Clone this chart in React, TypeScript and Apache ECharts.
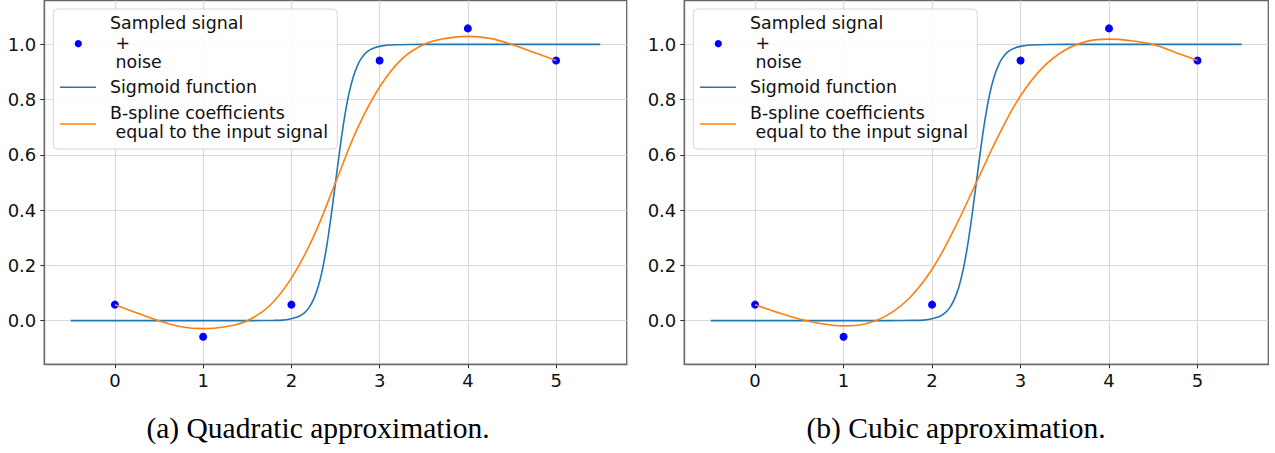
import React, { useEffect, useRef } from "react";
import * as echarts from "echarts";

// Sampled signal + noise
const sampleX = [0, 1, 2, 3, 4, 5];
const sampleY = [0.058, -0.058, 0.058, 0.942, 1.058, 0.942];

// Sigmoid curve, points
const sigmoidX = [-0.5, 1.5, 1.8, 1.9, 2.0, 2.05, 2.1, 2.15, 2.2, 2.25, 2.3, 2.35, 2.4, 2.45, 2.5, 2.55, 2.6, 2.65, 2.7, 2.75, 2.8, 2.85, 2.9, 2.95, 3.0, 3.1, 3.2, 3.5, 5.5];
const sigmoidY = [0.0, 0.0, 0.001, 0.002, 0.007, 0.011, 0.018, 0.029, 0.047, 0.076, 0.119, 0.182, 0.269, 0.378, 0.5, 0.622, 0.731, 0.818, 0.881, 0.924, 0.953, 0.971, 0.982, 0.989, 0.993, 0.998, 0.999, 1.0, 1.0];

// B-spline curves, points
const splineX = [0, 0.25, 0.5, 0.75, 1, 1.25, 1.5, 1.75, 2, 2.25, 2.5, 2.75, 3, 3.25, 3.5, 3.75, 4, 4.25, 4.5, 4.75, 5];
const quadraticY = [0.058, 0.028, 0.0, -0.022, -0.029, -0.022, 0.0, 0.053, 0.154, 0.303, 0.5, 0.697, 0.846, 0.947, 1.0, 1.022, 1.029, 1.022, 1.0, 0.971, 0.942];
const cubicY = [0.058, 0.03, 0.006, -0.011, -0.019, -0.011, 0.021, 0.084, 0.186, 0.331, 0.5, 0.669, 0.814, 0.916, 0.979, 1.011, 1.019, 1.013, 1.0, 0.971, 0.942];

const xTicks = [0, 1, 2, 3, 4, 5];
const yTicks = [0, 0.2, 0.4, 0.6, 0.8, 1.0];
const legendNames = ["Sampled signal\n +\n noise", "Sigmoid function", "B-spline coefficients\n equal to the input signal"];
const captions = ["(a) Quadratic approximation.", "(b) Cubic approximation."];

const BLUE_DOT = "#0000ff";
const C_BLUE = "#1f77b4";
const C_ORANGE = "#ff7f0e";
const TICK_FONT = "DejaVu Sans";

const pairs = (xs: number[], ys: number[]) => xs.map((x, i) => [x, ys[i]]);

const gridLefts = [44.3, 684.3];
const gridWidths = [582.4, 584];
const captionCenters = [318, 956];

function legendGraphic(left: number) {
  return {
    type: "group",
    x: left,
    y: 0,
    children: [
      {
        type: "rect",
        shape: { x: 9, y: 9, width: 284, height: 140, r: 4 },
        style: { fill: "rgba(255,255,255,0.85)", stroke: "#d6d6d6", lineWidth: 1 },
        z: 10,
      },
      { type: "circle", shape: { cx: 34, cy: 43.7, r: 3.6 }, style: { fill: BLUE_DOT }, z: 11 },
      { type: "line", shape: { x1: 15.7, y1: 87.3, x2: 51.7, y2: 87.3 }, style: { stroke: C_BLUE, lineWidth: 1.6 }, z: 11 },
      { type: "line", shape: { x1: 15.7, y1: 124, x2: 51.7, y2: 124 }, style: { stroke: C_ORANGE, lineWidth: 1.6 }, z: 11 },
      {
        type: "text", x: 65.7, y: 42.5, z: 11,
        style: { text: legendNames[0], fill: "#111", font: `17.4px "${TICK_FONT}"`, lineHeight: 19.3, verticalAlign: "middle", align: "left" },
      },
      {
        type: "text", x: 65.7, y: 87.3, z: 11,
        style: { text: legendNames[1], fill: "#111", font: `17.4px "${TICK_FONT}"`, lineHeight: 19.3, verticalAlign: "middle", align: "left" },
      },
      {
        type: "text", x: 65.7, y: 122.5, z: 11,
        style: { text: legendNames[2], fill: "#111", font: `17.4px "${TICK_FONT}"`, lineHeight: 19.6, verticalAlign: "middle", align: "left" },
      },
    ],
  };
}

export default function App() {
  const ref = useRef<HTMLDivElement>(null);

  useEffect(() => {
    if (!ref.current) return;
    const chart = echarts.init(ref.current, null, { renderer: "svg" });

    const grids = [0, 1].map((i) => ({
      left: gridLefts[i],
      top: 0.5,
      width: gridWidths[i],
      height: 363.8,
      show: true,
      borderColor: "#666",
      borderWidth: 1.3,
      backgroundColor: "transparent",
      containLabel: false,
    }));

    const xAxes = [0, 1].map((i) => ({
      type: "value",
      gridIndex: i,
      min: -0.8,
      max: 5.8,
      axisLine: { show: true, onZero: false, lineStyle: { color: "#666", width: 1.3 } },
      axisTick: { show: true, length: 4, customValues: xTicks, lineStyle: { color: "#333", width: 1 } },
      axisLabel: {
        customValues: xTicks,
        margin: 7,
        color: "#111",
        fontFamily: TICK_FONT,
        fontSize: 18,
        formatter: (v: number) => String(Math.round(v)),
      },
      splitLine: { show: true, lineStyle: { color: "#d9d9d9", width: 1.1 } },
    }));

    const yAxes = [0, 1].map((i) => ({
      type: "value",
      gridIndex: i,
      min: -0.158,
      max: 1.159,
      axisLine: { show: true, onZero: false, lineStyle: { color: "#666", width: 1.3 } },
      axisTick: { show: true, length: 4, customValues: yTicks, lineStyle: { color: "#333", width: 1 } },
      axisLabel: {
        customValues: yTicks,
        margin: 8,
        color: "#111",
        fontFamily: TICK_FONT,
        fontSize: 18,
        formatter: (v: number) => v.toFixed(1),
      },
      splitLine: { show: true, lineStyle: { color: "#d9d9d9", width: 1.1 } },
    }));

    const splines = [quadraticY, cubicY];
    const series: any[] = [];
    [0, 1].forEach((i) => {
      series.push({
        type: "scatter",
        name: "Sampled signal + noise",
        xAxisIndex: i,
        yAxisIndex: i,
        data: pairs(sampleX, sampleY),
        symbolSize: 8,
        itemStyle: { color: BLUE_DOT, opacity: 1 },
        z: 2,
      });
      series.push({
        type: "line",
        name: "Sigmoid function",
        xAxisIndex: i,
        yAxisIndex: i,
        data: pairs(sigmoidX, sigmoidY),
        showSymbol: false,
        smooth: 0.25,
        lineStyle: { color: C_BLUE, width: 1.6 },
        itemStyle: { color: C_BLUE },
        z: 3,
      });
      series.push({
        type: "line",
        name: "B-spline coefficients equal to the input signal",
        xAxisIndex: i,
        yAxisIndex: i,
        data: pairs(splineX, splines[i]),
        showSymbol: false,
        smooth: 0.4,
        lineStyle: { color: C_ORANGE, width: 1.6 },
        itemStyle: { color: C_ORANGE },
        z: 4,
      });
    });

    const graphic: any[] = [
      legendGraphic(gridLefts[0]),
      legendGraphic(gridLefts[1]),
      ...captions.map((c, i) => ({
        type: "text",
        x: captionCenters[i],
        y: 428,
        style: { text: c, fill: "#000", font: '29.5px "Liberation Serif"', align: "center", verticalAlign: "middle" },
      })),
    ];

    chart.setOption({
      animation: false,
      backgroundColor: "#ffffff",
      grid: grids,
      xAxis: xAxes,
      yAxis: yAxes,
      series,
      graphic,
    });

    return () => chart.dispose();
  }, []);

  return (
    <div
      ref={ref}
      style={{ position: "fixed", left: 0, top: 0, width: 1275, height: 453, background: "#fff" }}
    />
  );
}
